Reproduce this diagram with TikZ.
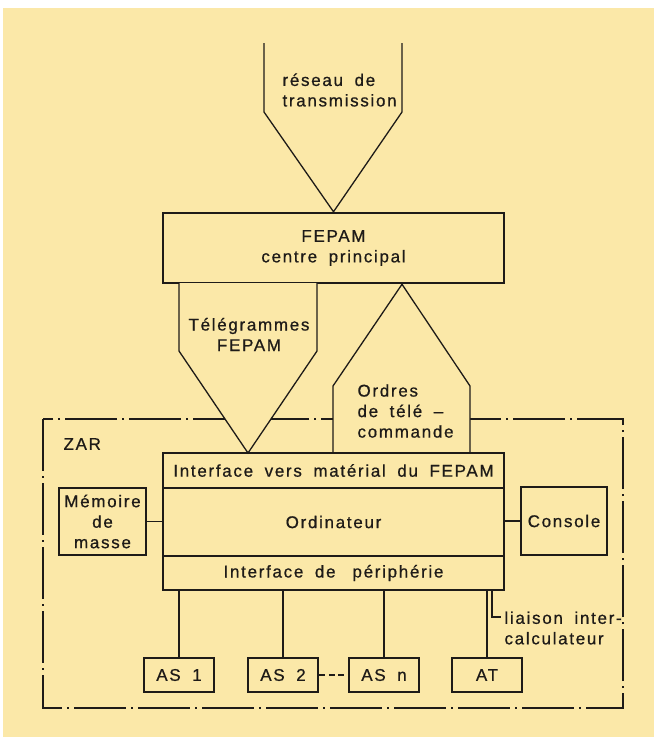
\documentclass[tikz,border=0pt]{standalone}
\usepackage{fontspec}
\setmainfont{Liberation Sans}[LetterSpace=10, WordSpace=1.8, FakeBold=0.7]
\usetikzlibrary{calc}

\definecolor{paper}{RGB}{251,232,168}
\definecolor{ink}{RGB}{30,27,24}

\begin{document}
\begin{tikzpicture}[x=1pt, y=-1pt,
	every node/.style={font=\fontsize{17}{20.5}\selectfont, text=ink},
	box/.style={draw=ink, line width=2.5pt, inner sep=0pt, align=center},
	link/.style={draw=ink, line width=1.3pt},
	funnel/.style={draw=ink, fill=paper, line width=1.3pt, line join=miter},
	zar/.style={draw=ink, line width=1.3pt, dash pattern=on 52pt off 5pt on 2pt off 5pt}]
	
		\useasboundingbox (0, 0) rectangle (654, 737);
		\fill[white] (0, 0) rectangle (654, 737);
		\fill[paper] (3, 8) rectangle (654, 737);
		
		% zone ZAR
		\draw[zar] (43, 419) rectangle (623, 708);
		\node[anchor=west] (zarlabel) at (60, 444) {ZAR};
		
		\node[box, minimum width=341pt, minimum height=70pt] (fepam) at (333.5, 248) {FEPAM\\centre principal};
		
		\draw[funnel, fill=none] (264, 43) -- (264, 112) -- (fepam.north) -- (402, 112) -- (402, 43);
		\node[anchor=west, align=left] (net) at (279, 90) {réseau de\\transmission};
		
		\draw[funnel] (179, 283) -- (179, 351) -- (248, 453) -- (317, 351) -- (317, 283);
		\draw[funnel] (333, 453) -- (333, 386) -- (fepam.south -| 402, 0) -- (470, 386) -- (470, 453);
		\node[align=center] (tele) at (249, 334.5) {Télégrammes\\FEPAM};
		\node[anchor=west, align=left] (ordres) at (354, 411) {Ordres\\de télé –\\commande};
		
		\node[box, minimum width=341pt, minimum height=35pt] (ifepam) at (333.5, 470.5) {Interface vers matérial du FEPAM};
		\node[box, minimum width=341pt, minimum height=68pt] (ordi) at (333.5, 522) {Ordinateur};
		\node[box, minimum width=341pt, minimum height=34pt] (iper) at (333.5, 573) {Interface de\hspace{17pt}périphérie};
		
		\node[box, minimum width=87pt, minimum height=67pt] (mem) at (102.5, 521.5) {Mémoire\\de\\masse};
		\node[box, minimum width=86pt, minimum height=68pt] (console) at (564, 521) {Console};
		
		\node[box, minimum width=70pt, minimum height=34pt] (as1) at (179, 675) {AS 1};
		\node[box, minimum width=70pt, minimum height=34pt] (as2) at (283, 675) {AS 2};
		\node[box, minimum width=70pt, minimum height=34pt] (asn) at (384, 675) {AS n};
		\node[box, minimum width=70pt, minimum height=34pt] (at) at (487, 675) {AT};
		
		\draw[link] (mem.east) -- (mem.east -| ordi.west);
		\draw[link] (console.west) -- (console.west -| ordi.east);
		\draw[link] (as1.north) -- (as1.north |- iper.south);
		\draw[link] (as2.north) -- (as2.north |- iper.south);
		\draw[link] (asn.north) -- (asn.north |- iper.south);
		\draw[link] (at.north) -- (at.north |- iper.south);
		\draw[link, dash pattern=on 6pt off 3.5pt] (as2.east) -- (asn.west);
		
		\node[anchor=west, align=left] (liaison) at (501, 628) {liaison inter-\\calculateur};
		\coordinate (bend) at (492, 617);
		\draw[link] (iper.south -| bend) -- (bend) -- (liaison.west |- bend);
	\end{tikzpicture}
\end{document}
